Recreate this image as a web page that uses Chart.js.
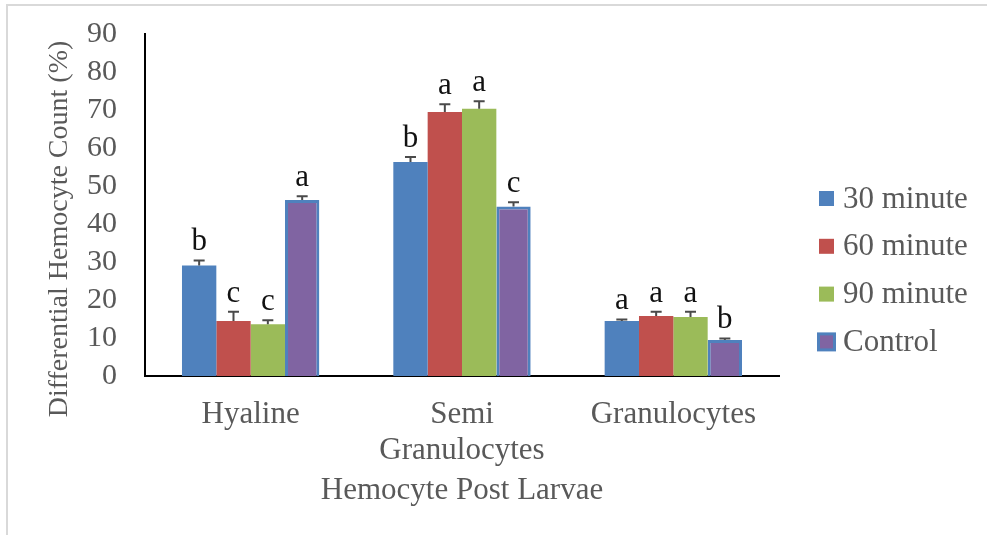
<!DOCTYPE html>
<html>
<head>
<meta charset="utf-8">
<script src="https://cdn.jsdelivr.net/npm/chart.js@4/dist/chart.umd.min.js"></script>
<style>
  html, body { margin: 0; padding: 0; background: #fff; overflow: hidden; }
  #wrap { position: relative; width: 987px; height: 535px; overflow: hidden; }
  #frame { position: absolute; left: 6px; top: 4px; width: 1100px; height: 700px;
           border-left: 2px solid #d9d9d9; border-top: 2px solid #d9d9d9; }
  canvas { position: absolute; left: 0; top: 0; }
</style>
</head>
<body>
<div id="wrap">
  <div id="frame"></div>
  <canvas id="chart" width="987" height="535"></canvas>
</div>
<script>
// Hemocyte types on the x axis
const categories = ['Hyaline', ['Semi', 'Granulocytes'], 'Granulocytes'];
const seriesNames = ['30 minute', '60 minute', '90 minute', 'Control'];

// Mean differential counts (%)
const min30 = [29.1, 56.3, 14.5];
const min60 = [14.5, 69.5, 15.8];
const min90 = [13.6, 70.3, 15.5];
const control = [46.3, 44.6, 9.5];

// Standard errors (plotted upward)
const err30 = [1.3, 1.3, 0.4];
const err60 = [2.4, 2.0, 1.1];
const err90 = [1.1, 2.0, 1.4];
const errControl = [1.0, 1.1, 0.4];

// Significance letters
const sig30 = ['b', 'b', 'a'];
const sig60 = ['c', 'a', 'a'];
const sig90 = ['c', 'a', 'a'];
const sigControl = ['a', 'c', 'b'];

const yTicks = [0, 10, 20, 30, 40, 50, 60, 70, 80, 90];

const SERIF = '"Liberation Serif", "Times New Roman", serif';
const GREY_TEXT = '#595959';

const fills = ['#4F81BD', '#C0504D', '#9BBB59', '#8064A2'];
const borders = ['#4F81BD', '#C0504D', '#9BBB59', '#4F81BD'];
const borderWidths = [0, 0, 0, 3];
const values = [min30, min60, min90, control];
const errors = [err30, err60, err90, errControl];
const letters = [sig30, sig60, sig90, sigControl];

const datasets = seriesNames.map((name, i) => ({
  label: name,
  data: values[i],
  errors: errors[i],
  letters: letters[i],
  backgroundColor: fills[i],
  borderColor: borders[i],
  borderWidth: borderWidths[i],
  borderSkipped: 'bottom',
  categoryPercentage: 0.65,
  barPercentage: 1.0
}));

// Upper error whiskers plus the significance letter above each bar
const errorBarPlugin = {
  id: 'errorBars',
  afterDatasetsDraw(chart) {
    const ctx = chart.ctx;
    const y = chart.scales.y;
    ctx.save();
    chart.data.datasets.forEach((ds, di) => {
      const meta = chart.getDatasetMeta(di);
      meta.data.forEach((bar, idx) => {
        const v = ds.data[idx];
        const e = ds.errors[idx];
        const yTop = y.getPixelForValue(v);
        const yErr = y.getPixelForValue(v + e);
        const x = bar.x;
        ctx.strokeStyle = '#4a4a4a';
        ctx.lineWidth = 2;
        ctx.beginPath();
        ctx.moveTo(x, yTop);
        ctx.lineTo(x, yErr);
        ctx.moveTo(x - 5.5, yErr);
        ctx.lineTo(x + 5.5, yErr);
        ctx.stroke();
        ctx.fillStyle = '#111';
        ctx.font = '31px ' + SERIF;
        ctx.textAlign = 'center';
        ctx.textBaseline = 'alphabetic';
        ctx.fillText(ds.letters[idx], x, yErr - 10);
      });
    });
    ctx.restore();
  }
};

// Vertical axis title and the legend on the right
const sideTextPlugin = {
  id: 'sideText',
  afterDraw(chart) {
    const ctx = chart.ctx;
    ctx.save();
    ctx.fillStyle = GREY_TEXT;
    ctx.font = '28px ' + SERIF;
    ctx.translate(60, 229);
    ctx.rotate(-Math.PI / 2);
    ctx.textAlign = 'center';
    ctx.textBaseline = 'middle';
    ctx.fillText('Differential Hemocyte Count (%)', 0, 0);
    ctx.restore();

    ctx.save();
    const startY = 198.5, step = 47.8;
    chart.data.datasets.forEach((ds, i) => {
      const cy = startY + i * step;
      if (ds.borderWidth > 0) {
        ctx.fillStyle = ds.borderColor;
        ctx.fillRect(817, cy - 9.5, 19, 19);
        ctx.fillStyle = ds.backgroundColor;
        ctx.fillRect(820, cy - 6.5, 13, 13);
      } else {
        ctx.fillStyle = ds.backgroundColor;
        ctx.fillRect(819, cy - 7.5, 15, 15);
      }
      ctx.fillStyle = GREY_TEXT;
      ctx.font = '31px ' + SERIF;
      ctx.textAlign = 'left';
      ctx.textBaseline = 'middle';
      ctx.fillText(ds.label, 843, cy + 1);
    });
    ctx.restore();
  }
};

new Chart(document.getElementById('chart'), {
  type: 'bar',
  data: { labels: categories, datasets },
  options: {
    responsive: false,
    animation: false,
    devicePixelRatio: 1,
    layout: { padding: { left: 0, right: 208, top: 34, bottom: 0 } },
    plugins: { legend: { display: false }, tooltip: { enabled: false } },
    scales: {
      x: {
        grid: { display: false },
        border: { display: true, color: '#000', width: 2 },
        ticks: {
          color: GREY_TEXT,
          font: { family: SERIF, size: 31, lineHeight: 1.16 },
          padding: 13,
          maxRotation: 0,
          autoSkip: false
        },
        title: {
          display: true,
          text: 'Hemocyte Post Larvae',
          color: GREY_TEXT,
          font: { family: SERIF, size: 31, lineHeight: 1.2 },
          padding: { top: 0, bottom: 26 }
        },
        afterFit(scale) {
          scale.height = 159;
          scale.paddingLeft = 0;
          scale.paddingRight = 0;
        }
      },
      y: {
        min: 0,
        max: 90,
        grid: { display: false },
        border: { display: true, color: '#000', width: 2 },
        afterBuildTicks(scale) { scale.ticks = yTicks.map(v => ({ value: v })); },
        ticks: {
          color: GREY_TEXT,
          font: { family: SERIF, size: 30 },
          padding: 20,
          autoSkip: false
        },
        afterFit(scale) {
          scale.width = 145;
          scale.paddingTop = 0;
          scale.paddingBottom = 0;
        }
      }
    }
  },
  plugins: [errorBarPlugin, sideTextPlugin]
});
</script>
</body>
</html>
